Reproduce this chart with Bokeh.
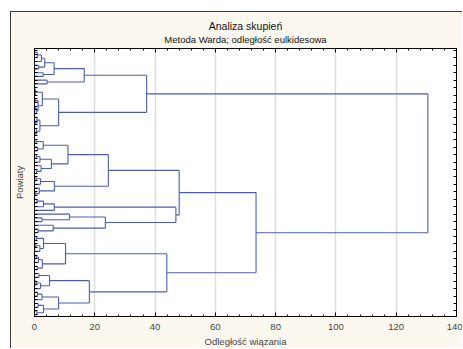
from bokeh.plotting import figure
from bokeh.models import (ColumnDataSource, LinearAxis, FixedTicker,
                          SingleIntervalTicker, Range1d, Title, CustomLabelingPolicy)
from bokeh.embed import file_html
from bokeh.resources import INLINE

# ---------------- data ----------------
title_text = "Analiza skupień"
subtitle_text = "Metoda Warda; odległość eulkidesowa"
x_label = "Odległość wiązania"
y_label = "Powiaty"

L = "leaf"
# each node: [linkage distance, upper branch, lower branch]
cluster_A1 = [16.5,
              [6.5,
               [3.4, [2.3, [0.9, [0.1, L, L], L], L], [1.4, L, L]],
               [2.9, L, L]],
              [4.2, L, L]]
cluster_A2 = [8.0,
              [2.6, [0.3, [0.1, L, L], L], [1.2, [0.4, L, L], [0.6, [0.2, L, L], L]]],
              [1.8, [0.8, L, [0.3, L, L]], [0.6, L, [0.2, L, L]]]]
cluster_B1a = [24.5,
               [11.1, [2.9, [0.5, L, L], [1.0, L, L]],
                [5.6, [1.8, [0.6, L, L], L], [2.2, L, [0.7, L, L]]]],
               [6.6, [2.0, [0.5, L, L], L], [1.6, L, [0.4, L, L]]]]
cluster_B1b = [46.9,
               [6.6, [3.0, [0.8, L, L], L], L],
               [23.5, [11.6, L, [2.5, L, L]], [6.2, L, [1.2, L, L]]]]
cluster_B2a = [10.3,
               [3.0, [0.6, L, L], [1.8, [0.4, L, L], L]],
               [2.6, [1.3, [0.5, L, L], L], [0.9, L, L]]]
cluster_B2b = [18.2,
               [5.0, [1.5, L, L], [2.0, [0.5, L, L], L]],
               [8.0, [2.5, [1.0, L, L], L], [3.0, [1.2, L, L], [0.8, L, L]]]]
h_A = 37.2
h_B1 = 48.0
h_B2 = 43.9
h_B = 73.5
h_root = 130.5

tree = [h_root,
        [h_A, cluster_A1, cluster_A2],
        [h_B, [h_B1, cluster_B1a, cluster_B1b], [h_B2, cluster_B2a, cluster_B2b]]]

# ---------------- build dendrogram segments ----------------
seg = {"x0": [], "y0": [], "x1": [], "y1": []}
counter = [0]


def add(x0, y0, x1, y1):
    seg["x0"].append(x0); seg["y0"].append(y0)
    seg["x1"].append(x1); seg["y1"].append(y1)


def walk(node):
    if node == L:
        pos = counter[0]
        counter[0] += 1
        return pos, 0.0
    h, a, b = node
    ya, ha = walk(a)
    yb, hb = walk(b)
    add(ha, ya, h, ya)
    add(hb, yb, h, yb)
    add(h, ya, h, yb)
    return (ya + yb) / 2.0, h


walk(tree)
N = counter[0]
leaf_pos = list(range(N))

FONT = "Liberation Sans"
LINE = "#4a5db5"

no_labels = CustomLabelingPolicy(
    code="for (const i of Array.from(indices)) { indices.unset(i) }\nreturn indices")

p = figure(width=452, height=337,
           x_range=Range1d(0, 140), y_range=Range1d(N - 0.5, -0.5),
           output_backend="svg", toolbar_location=None,
           min_border_left=22, min_border_right=7,
           min_border_top=36, min_border_bottom=33,
           background_fill_color="white",
           border_fill_color="#fcf8ef")
p.styles = {"margin-left": "10px", "margin-top": "11px",
            "border-left": "1px solid #3c3c3c", "border-top": "1px solid #3c3c3c"}
p.outline_line_color = "black"
p.outline_line_width = 1

p.segment(x0="x0", y0="y0", x1="x1", y1="y1", source=ColumnDataSource(seg),
          line_color=LINE, line_width=1.1)

# titles
p.title.text = title_text
p.title.align = "center"
p.title.text_font = FONT
p.title.text_font_size = "10.5px"
p.title.text_font_style = "normal"
p.title.text_color = "#111111"
p.title.offset = -8
p.title.standoff = 0
sub = Title(text=subtitle_text, align="center", text_font=FONT, text_font_size="9.5px",
            text_font_style="normal", text_color="#111111", offset=-5, standoff=0)

# bottom x axis
xt = SingleIntervalTicker(interval=20, num_minor_ticks=5)
xa = p.xaxis[0]
xa.ticker = xt
xa.axis_label = x_label
xa.axis_label_text_font = FONT
xa.axis_label_text_font_size = "9.5px"
xa.axis_label_text_font_style = "normal"
xa.axis_label_standoff = 3
xa.major_label_text_font = FONT
xa.major_label_text_font_size = "9.5px"
xa.major_label_standoff = 7
xa.major_tick_in = 4
xa.major_tick_out = 0
xa.minor_tick_in = 2
xa.minor_tick_out = 0
xa.axis_line_color = "black"

# top axis (ticks only)
ta = LinearAxis(ticker=SingleIntervalTicker(interval=20, num_minor_ticks=5),
                major_label_policy=no_labels,
                major_label_text_font_size="1px", major_label_standoff=0,
                major_tick_in=4, major_tick_out=0, minor_tick_in=2, minor_tick_out=0)
p.add_layout(ta, "above")
p.add_layout(sub, "above")

# left y axis
ya = p.yaxis[0]
ya.ticker = FixedTicker(ticks=leaf_pos)
ya.axis_label = y_label
ya.axis_label_text_font = FONT
ya.axis_label_text_font_size = "9.5px"
ya.axis_label_text_font_style = "normal"
ya.axis_label_standoff = 5
ya.major_label_policy = no_labels
ya.major_label_text_font_size = "1px"
ya.major_label_standoff = 0
ya.major_tick_in = 3
ya.major_tick_out = 0
ya.minor_tick_line_color = None

# right y axis (ticks only)
ra = LinearAxis(ticker=FixedTicker(ticks=leaf_pos[::2]),
                major_label_policy=no_labels,
                major_label_text_font_size="1px", major_label_standoff=0,
                major_tick_in=3, major_tick_out=0, minor_tick_line_color=None)
p.add_layout(ra, "right")

p.xgrid.ticker = xt
p.xgrid.grid_line_color = "#dedede"
p.xgrid.grid_line_width = 1.5
p.ygrid.grid_line_color = None

open("out.html", "w").write(file_html(p, INLINE))
